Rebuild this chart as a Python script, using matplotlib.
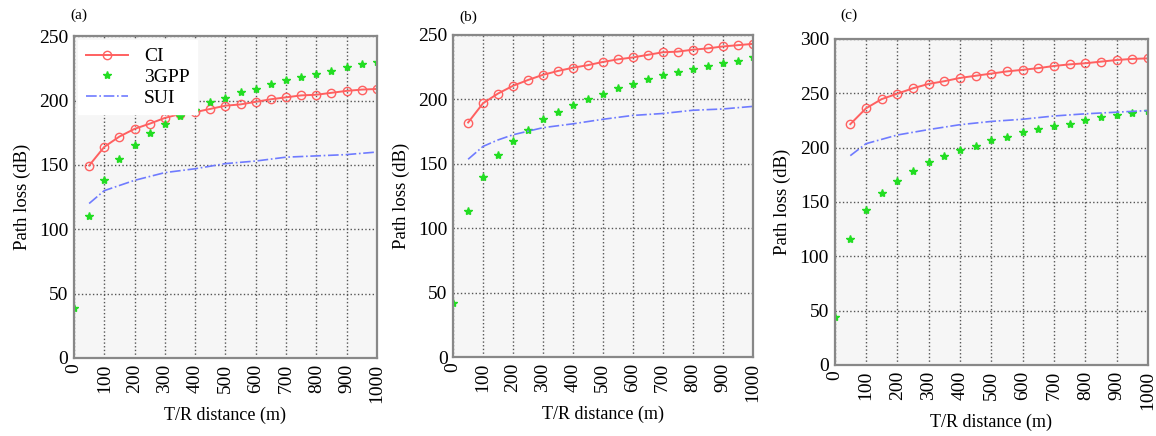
"""
Path loss vs T/R distance for CI, 3GPP and SUI models, three scenarios.
"""

import matplotlib
matplotlib.use('Agg')
import matplotlib.pyplot as plt
import numpy as np

plt.rcParams['font.family'] = ['Liberation Serif', 'DejaVu Serif']

# distances (m)
dist = [50, 100, 150, 200, 250, 300, 350, 400, 450, 500,
        550, 600, 650, 700, 750, 800, 850, 900, 950, 1000]
dist_3gpp = [0] + dist
dist_sui = [50, 100, 150, 200, 300, 400, 500, 600, 700, 800, 900, 1000]

# (a)
ci_a = [149.5, 164, 172, 178, 182, 186.5, 189.5, 191, 193.5, 196,
        197, 199, 201, 202.5, 204, 204.5, 206, 207.5, 208.5, 209]
gpp_a = [39, 110, 138, 154.5, 165.5, 175, 182, 188, 193, 198.5, 202,
         206.5, 209, 213, 216, 218.5, 221, 223, 226, 228.5, 230]
sui_a = [120, 130, 134, 138, 144, 147, 151, 153, 156, 157, 158, 160]

# (b)
ci_b = [182, 197, 204.5, 210.5, 215, 219, 222, 224.5, 226.5, 229,
        231, 232.5, 234.5, 236.5, 237, 238.5, 239.5, 241, 242, 243]
gpp_b = [42, 113.5, 140, 156.5, 168, 176.5, 184.5, 190.5, 195.5, 200, 204.5,
         208.5, 211.5, 215.5, 219, 221, 223.5, 225.5, 228, 230, 232.5]
sui_b = [153.5, 163.5, 168.5, 172.5, 178, 181, 184.5, 187.5, 189, 191.5, 192.5, 194.5]

# (c)
ci_c = [221.5, 236, 244.5, 249.5, 254.5, 258.5, 261, 264, 266, 268,
        270, 271.5, 273, 275, 276.5, 277.5, 279, 280.5, 281.5, 282]
gpp_c = [44, 115.5, 142.5, 158.5, 169.5, 178.5, 186.5, 192.5, 198, 201.5, 206.5,
         210, 214, 217, 220, 222, 225.5, 228, 230, 232, 234]
sui_c = [192.5, 203.5, 207.5, 211.5, 216.5, 221, 224, 226, 229, 231, 232.5, 234]

panels = [
    ('(a)', ci_a, gpp_a, sui_a, 250, [0.064, 0.179, 0.262, 0.738], (0.061, 0.966)),
    ('(b)', ci_b, gpp_b, sui_b, 250, [0.392, 0.181, 0.259, 0.739], (0.397, 0.961)),
    ('(c)', ci_c, gpp_c, sui_c, 300, [0.722, 0.163, 0.271, 0.748], (0.727, 0.966)),
]

fig = plt.figure(figsize=(11.56, 4.36), dpi=100)

for i, (tag, ci, gpp, sui, ymax, pos, tagpos) in enumerate(panels):
    ax = fig.add_axes(pos)
    ax.set_facecolor('#f6f6f6')
    ax.plot(dist, ci, color='#ff6060', lw=1.4, marker='o', ms=6,
            mfc='none', mec='#ff6060', mew=1.0, label='CI')
    ax.plot(dist_3gpp, gpp, ls='none', marker='*', ms=6,
            color='#22dd22', label='3GPP')
    ax.plot(dist_sui, sui, color='#6f7bff', lw=1.2, ls='-.', label='SUI')

    ax.set_xlim(0, 1000)
    ax.set_ylim(0, ymax)
    ax.set_xticks(np.arange(0, 1001, 100))
    ax.set_yticks(np.arange(0, ymax + 1, 50))
    ax.tick_params(axis='x', labelrotation=90, labelsize=14, length=0, pad=4)
    ax.tick_params(axis='y', labelsize=14, length=0, pad=4)
    ax.grid(True, ls=':', color='#555555', lw=1.0)
    for s in ax.spines.values():
        s.set_color('#888888')
        s.set_linewidth(1.6)

    ax.set_xlabel('T/R distance (m)', fontsize=13, labelpad=3)
    ax.set_ylabel('Path loss (dB)', fontsize=13.5, labelpad=6)
    fig.text(tagpos[0], tagpos[1], tag, fontsize=11, ha='left', va='center')

    if i == 0:
        leg = ax.legend(loc='upper left', fontsize=14, frameon=True,
                        fancybox=False, handlelength=2.2, borderaxespad=0.2,
                        labelspacing=0.15)
        leg.get_frame().set_edgecolor('white')
        leg.get_frame().set_facecolor('white')
        leg.get_frame().set_alpha(1.0)

fig.savefig('out.png', dpi=100)
